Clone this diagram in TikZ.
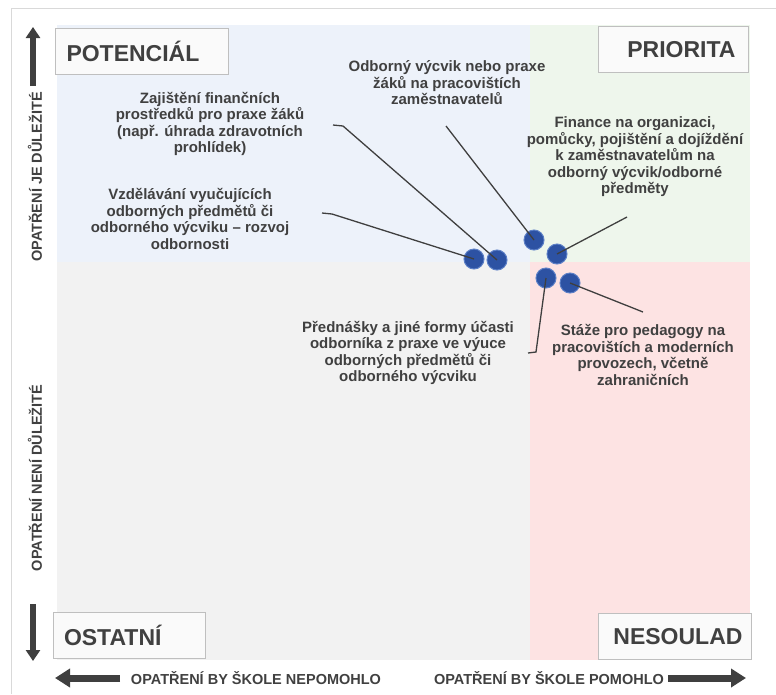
\documentclass[tikz,border=0pt]{standalone}
\usepackage{fontspec}
\setmainfont{Liberation Sans}
\usepackage{tikz}
\usetikzlibrary{positioning,arrows.meta}
\definecolor{txtgray}{HTML}{404040}
\definecolor{arrowgray}{HTML}{3F3F3F}
\definecolor{framegray}{HTML}{D9D9D9}
\definecolor{boxgray}{HTML}{BFBFBF}
\definecolor{boxfill}{HTML}{FAFAFA}
\definecolor{quadblue}{HTML}{EDF2FA}
\definecolor{quadgreen}{HTML}{EEF6EC}
\definecolor{quadgray}{HTML}{F2F2F2}
\definecolor{quadpink}{HTML}{FDE3E3}
\definecolor{dotblue}{HTML}{2D52A3}
\definecolor{dotedge}{HTML}{5C7FC6}

\begin{document}
\begin{tikzpicture}[x=1pt, y=-1pt, thick,
    quadbox/.style={draw=boxgray, fill=boxfill, line width=0.8pt, minimum height=46pt, inner sep=0pt,
      font=\bfseries\fontsize{23}{26}\selectfont, text=txtgray},
    itemtext/.style={align=center, inner sep=0pt, text=txtgray, font=\bfseries\fontsize{15}{16.5}\selectfont},
    axistext/.style={inner sep=0pt, text=txtgray, font=\bfseries\fontsize{14.5}{16}\selectfont},
    dot/.style={circle, fill=dotblue, draw=dotedge, line width=1pt, minimum size=20pt, inner sep=0pt},
    leader/.style={draw=arrowgray, line width=1.3pt},
    bigarrow/.style={draw=arrowgray, line width=5.5pt, -{Triangle[length=11pt, width=14pt]}},
    widearrow/.style={draw=arrowgray, line width=7pt, -{Triangle[length=15pt, width=18pt]}}]
    \useasboundingbox (0,0) rectangle (776,694);

    % Frame
    \draw[framegray, line width=1pt] (11,694) -- (11,8) -- (776,8);

    % Quadrants
    \fill[quadblue] (57,25) rectangle (530,262);
    \fill[quadgreen] (530,25) rectangle (750,262);
    \fill[quadgray] (57,262) rectangle (530,660);
    \fill[quadpink] (530,262) rectangle (750,660);

    % Quadrant labels
    \node[quadbox, minimum width=173pt, text width=150pt, align=left] (potencial) at (141.5,51) {POTENCIÁL};
    \node[quadbox, minimum width=150pt, text width=125pt, align=right] (priorita) at (673,49.5) {PRIORITA};
    \node[quadbox, minimum width=152pt, text width=130pt, align=left] (ostatni) at (129,635) {OSTATNÍ};
    \node[quadbox, minimum width=153pt, text width=136pt, align=right] (nesoulad) at (674.5,636.5) {NESOULAD};

    % Axis labels
    \node[axistext, rotate=90] (dulezite) at (35,177) {OPATŘENÍ JE DŮLEŽITÉ};
    \node[axistext, rotate=90] (nedulezite) at (35,478) {OPATŘENÍ NENÍ DŮLEŽITÉ};
    \node[axistext] (nepomohlo) at (256,678) {OPATŘENÍ BY ŠKOLE NEPOMOHLO};
    \node[axistext] (pomohlo) at (549,678) {OPATŘENÍ BY ŠKOLE POMOHLO};

    % Axis arrows
    \coordinate (up-tail) at (33,86);
    \coordinate (up-tip) at (33,27);
    \coordinate (down-tail) at (33,604);
    \coordinate (down-tip) at (33,661);
    \coordinate (left-tail) at (120,678);
    \coordinate (left-tip) at (55,678);
    \coordinate (right-tail) at (668,678);
    \coordinate (right-tip) at (746,678);
    \draw[bigarrow] (up-tail) -- (up-tip);
    \draw[bigarrow] (down-tail) -- (down-tip);
    \draw[widearrow] (left-tail) -- (left-tip);
    \draw[widearrow] (right-tail) -- (right-tip);

    % Measures
    \node[dot] (vzdelavani-dot) at (474,259) {};
    \node[dot] (zajisteni-dot) at (497,260) {};
    \node[dot] (vycvik-dot) at (534,240) {};
    \node[dot] (finance-dot) at (557,254) {};
    \node[dot] (prednasky-dot) at (546,278) {};
    \node[dot] (staze-dot) at (570,283) {};

    % Descriptions
    \node[itemtext] (zajisteni) at (210,124) {Zajištění finančních\\prostředků pro praxe žáků\\(např. úhrada zdravotních\\prohlídek)};
    \node[itemtext] (vzdelavani) at (190,219) {Vzdělávání vyučujících\\odborných předmětů či\\odborného výcviku – rozvoj\\odbornosti};
    \node[itemtext] (vycvik) at (447,83) {Odborný výcvik nebo praxe\\žáků na pracovištích\\zaměstnavatelů};
    \node[itemtext] (finance) at (635,157) {Finance na organizaci,\\pomůcky, pojištění a dojíždění\\k zaměstnavatelům na\\odborný výcvik/odborné\\předměty};
    \node[itemtext] (prednasky) at (408,353) {Přednášky a jiné formy účasti\\odborníka z praxe ve výuce\\odborných předmětů či\\odborného výcviku};
    \node[itemtext] (staze) at (643,355) {Stáže pro pedagogy na\\pracovištích a moderních\\provozech, včetně\\zahraničních};

    % Leader lines
    \coordinate (zajisteni-end) at (333,125);
    \coordinate (vzdelavani-end) at (322,213);
    \coordinate (vycvik-end) at (446,126);
    \coordinate (finance-end) at (627,217);
    \coordinate (prednasky-end) at (528,353);
    \coordinate (staze-end) at (643,312);
    \draw[leader] (zajisteni-end) -- ++(10,1) -- (zajisteni-dot.center);
    \draw[leader] (vzdelavani-end) -- ++(10,1) -- (vzdelavani-dot.center);
    \draw[leader] (vycvik-end) -- (vycvik-dot.center);
    \draw[leader] (finance-end) -- (finance-dot.center);
    \draw[leader] (prednasky-end) -- ++(8,-1) -- (prednasky-dot.center);
    \draw[leader] (staze-end) -- (staze-dot.center);
\end{tikzpicture}
\end{document}
